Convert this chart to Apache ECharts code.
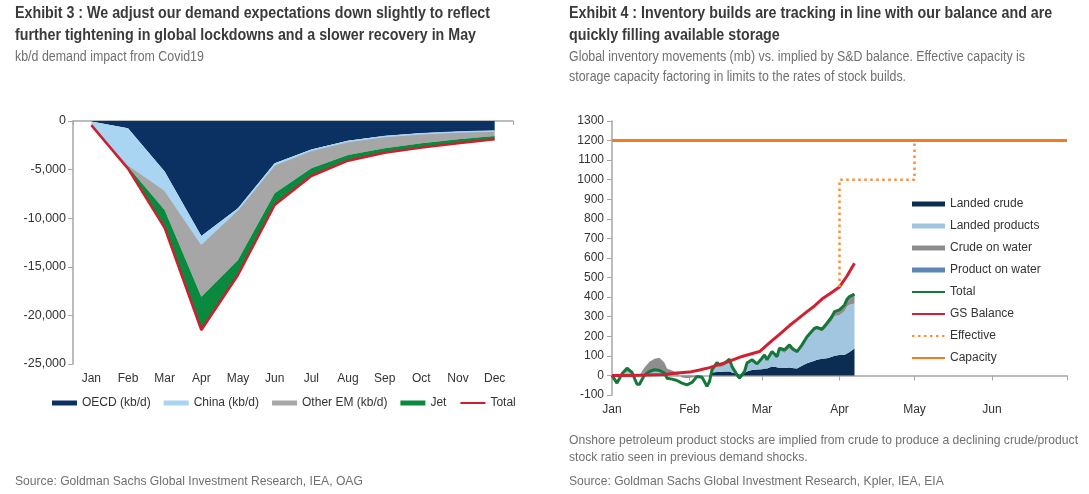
<!DOCTYPE html>
<html><head><meta charset="utf-8">
<script src="https://cdn.jsdelivr.net/npm/echarts@6/dist/echarts.min.js"></script>
<style>html,body{margin:0;padding:0;background:#fff}#c{width:1089px;height:494px}</style>
</head><body><div id="c"></div>
<script>
// ---------- Exhibit 3 data (kb/d) ----------
const months = ['Jan','Feb','Mar','Apr','May','Jun','Jul','Aug','Sep','Oct','Nov','Dec'];
const oecd    = [-50,-750,-5200,-11830,-8980,-4350,-2920,-2020,-1540,-1270,-1100,-1000];
const china   = [-300,-3750,-1900,-820,-120,-150,-100,-80,-60,-50,-40,-30];
const otherEM = [-50,-200,-2050,-5430,-5200,-2940,-1850,-1400,-1210,-980,-740,-510];
const jet     = [-30,-200,-1850,-3420,-1540,-1200,-790,-580,-450,-440,-420,-340];
const totalDemand = [-430,-4900,-11000,-21500,-15840,-8640,-5660,-4080,-3260,-2740,-2300,-1880];

// ---------- Exhibit 4 data (mb), x = day of year 2020 (0 = 1 Jan) ----------
const invDays = [0,2,4,6,8,10,11,13,15,17,19,21,22,24,26,28,30,32,34,36,38,39,40,42,43,45,47,48,50,51,53,54,56,58,60,61,62,64,66,67,69,71,72,74,76,78,81,82,84,86,88,89,91,93,94,95,97];
const landedCrude = [0,0,0,0,0,0,0,0,0,0,0,0,0,0,0,0,0,0,0,0,0,0,15,18,18,20,20,15,8,5,12,20,28,30,32,35,35,45,42,38,38,40,38,35,50,62,75,80,85,88,95,100,105,106,112,120,138];
const landedProducts = [0,0,3,20,8,0,0,15,25,30,25,15,0,0,0,0,0,0,0,0,0,0,1,35,23,30,50,17,0,0,6,38,47,24,51,65,40,70,44,89,76,99,87,77,96,126,156,154,139,162,184,204,203,222,240,241,230];
const crudeOnWater = [0,-5,5,10,8,-5,0,25,45,55,65,50,35,25,15,-10,-15,-10,-5,0,0,0,5,5,5,5,5,5,0,0,0,3,3,3,3,3,3,5,8,10,15,15,12,8,8,8,8,10,10,15,20,20,25,30,35,40,45];
const productOnWater = [0,0,0,0,0,0,0,0,0,0,0,0,0,0,0,0,0,0,0,0,0,0,8,8,8,8,8,8,0,0,2,2,2,2,2,2,2,2,2,2,2,2,2,2,2,2,2,2,2,2,2,2,2,2,2,2,2];
const totalStocks = [0,-39,8,37,15,-45,-45,3,20,29,25,12,-14,-19,-26,-39,-48,-36,-5,-9,-55,-31,29,66,54,63,83,45,3,-14,20,63,80,59,88,105,80,122,96,139,131,156,139,122,156,198,241,246,236,267,301,326,335,360,389,403,415];
const gsDays = [0,7,14,21,26,31,35,39,46,52,59,64,67,71,74,78,81,84,88,91,94,97];
const gsBalance = [0,0,2,5,12,17,28,40,68,97,122,178,210,255,285,326,355,390,425,452,508,573];
const effDays = [91,91,121,121,182];
const effective = [452,1000,1000,1200,1200];
const capDays = [0,182];
const capacity = [1200,1200];
const monthStarts = [0,31,60,91,121,152,182];
const invTickLabels = ['Jan','Feb','Mar','Apr','May','Jun',''];
const dayCategories = Array.from({length:183}, (_, i) => String(i));

const pairs = (xs, ys) => xs.map((x, i) => [x, ys[i]]);
const SANS = "'Liberation Sans',Arial,Helvetica,sans-serif";
const axisGray = '#a6a6a6';
const labelStyle = {color:'#333', fontFamily:SANS, fontSize:12};

const chart = echarts.init(document.getElementById('c'), null, {renderer:'canvas'});

// Arial-metric font compressed horizontally to imitate the reference's condensed face.
const mctx = document.createElement('canvas').getContext('2d');
function fitScale(t, font, targetW) { mctx.font = font; return targetW / mctx.measureText(t).width; }
const TB = 'bold 16px ' + SANS, TS = '14px ' + SANS, TN = '13px ' + SANS;
const T1 = 'Exhibit 3 : We adjust our demand expectations down slightly to reflect';
const S1 = 'Global inventory movements (mb) vs. implied by S&D balance. Effective capacity is';
const N1 = 'Onshore petroleum product stocks are implied from crude to produce a declining crude/product';
const sTitle = fitScale(T1, TB, 475), sSub = fitScale(S1, TS, 456), sNote = fitScale(N1, TN, 509);
function txt(x, y, t, font, fill, s) {
  return {type:'text', left:x, top:y, scaleX:s, scaleY:1, silent:true, style:{text:t, font:font, fill:fill}};
}
const dark = '#3a3a3a', grey = '#707070';
const noDot = {color:'rgba(0,0,0,0)', borderWidth:0};

const option = {
  backgroundColor:'#fff',
  animation:false,
  graphic: [
    txt(15, 6, T1, TB, dark, sTitle),
    txt(15, 28, 'further tightening in global lockdowns and a slower recovery in May', TB, dark, sTitle),
    txt(15, 50, 'kb/d demand impact from Covid19', TS, grey, sSub),
    txt(15, 475, 'Source: Goldman Sachs Global Investment Research, IEA, OAG', TN, grey, sNote),
    txt(569, 6, 'Exhibit 4 : Inventory builds are tracking in line with our balance and are', TB, dark, sTitle),
    txt(569, 28, 'quickly filling available storage', TB, dark, sTitle),
    txt(569, 50, S1, TS, grey, sSub),
    txt(569, 70, 'storage capacity factoring in limits to the rates of stock builds.', TS, grey, sSub),
    txt(569, 434, N1, TN, grey, sNote),
    txt(569, 451, 'stock ratio seen in previous demand shocks.', TN, grey, sNote),
    txt(569, 475, 'Source: Goldman Sachs Global Investment Research, Kpler, IEA, EIA', TN, grey, sNote)
  ],
  grid: [
    {left:73, top:121, width:440, height:243},
    {left:612, top:121, width:455, height:274}
  ],
  legend: [
    {
      left:52, top:397, padding:0, itemWidth:25, itemHeight:5, itemGap:13,
      textStyle:{color:'#333', fontFamily:SANS, fontSize:12},
      data:[
        {name:'OECD (kb/d)', icon:'rect'},
        {name:'China (kb/d)', icon:'rect'},
        {name:'Other EM (kb/d)', icon:'rect'},
        {name:'Jet', icon:'rect'},
        {name:'Total', itemStyle:noDot}
      ]
    },
    {
      orient:'vertical', left:911, top:198, padding:0, itemWidth:33, itemHeight:5, itemGap:10,
      textStyle:{color:'#333', fontFamily:SANS, fontSize:12},
      data:[
        {name:'Landed crude', icon:'rect'},
        {name:'Landed products', icon:'rect'},
        {name:'Crude on water', icon:'rect'},
        {name:'Product on water', icon:'rect'},
        {name:'Total ', itemStyle:noDot},
        {name:'GS Balance', itemStyle:noDot},
        {name:'Effective', itemStyle:noDot},
        {name:'Capacity', itemStyle:noDot}
      ]
    }
  ],
  xAxis: [
    {type:'category', gridIndex:0, data:months, position:'bottom', boundaryGap:true,
     axisLine:{show:false, onZero:false}, axisTick:{show:false},
     axisLabel:Object.assign({margin:9, interval:0}, labelStyle), splitLine:{show:false}},
    {type:'category', gridIndex:0, data:months, position:'top', boundaryGap:true,
     axisLine:{show:true, onZero:false, lineStyle:{color:axisGray, width:1.5}},
     axisTick:{show:true, inside:true, length:4, lineStyle:{color:axisGray}},
     axisLabel:{show:false}, splitLine:{show:false}},
    {type:'category', gridIndex:1, data:dayCategories, position:'bottom', boundaryGap:false,
     axisLine:{show:false, onZero:false}, axisTick:{show:false}, splitLine:{show:false},
     axisLabel:Object.assign({margin:9,
       interval:(i) => monthStarts.indexOf(i) >= 0,
       formatter:(v, i) => invTickLabels[monthStarts.indexOf(i)] || ''}, labelStyle)},
    {type:'category', gridIndex:1, data:dayCategories, position:'bottom', boundaryGap:false,
     axisLine:{show:true, onZero:true, lineStyle:{color:axisGray, width:1.5}},
     axisTick:{show:true, length:5, interval:(i) => monthStarts.indexOf(i) >= 0, lineStyle:{color:axisGray}},
     axisLabel:{show:false}, splitLine:{show:false}}
  ],
  yAxis: [
    {type:'value', gridIndex:0, min:-25000, max:0, interval:5000,
     axisLine:{show:true, lineStyle:{color:axisGray, width:1.5}},
     axisTick:{show:true, length:5, lineStyle:{color:axisGray}},
     splitLine:{show:false},
     axisLabel:Object.assign({margin:7, formatter:v => v.toLocaleString('en-US')}, labelStyle, {fontSize:12.5})},
    {type:'value', gridIndex:1, min:-100, max:1300, interval:100,
     axisLine:{show:true, lineStyle:{color:axisGray, width:1.5}},
     axisTick:{show:true, length:5, lineStyle:{color:axisGray}},
     splitLine:{show:false},
     axisLabel:Object.assign({margin:8, formatter:v => String(v)}, labelStyle)}
  ],
  series: [
    // Exhibit 3
    {name:'OECD (kb/d)', type:'line', xAxisIndex:0, yAxisIndex:0, stack:'d', data:oecd,
     symbol:'none', lineStyle:{width:0}, itemStyle:{color:'#0a3161'}, areaStyle:{color:'#0a3161', opacity:1}},
    {name:'China (kb/d)', type:'line', xAxisIndex:0, yAxisIndex:0, stack:'d', data:china,
     symbol:'none', lineStyle:{width:1.5, color:'#a9d4f2'}, itemStyle:{color:'#a9d4f2'}, areaStyle:{color:'#a9d4f2', opacity:1}},
    {name:'Other EM (kb/d)', type:'line', xAxisIndex:0, yAxisIndex:0, stack:'d', data:otherEM,
     symbol:'none', lineStyle:{width:0}, itemStyle:{color:'#a6a6a6'}, areaStyle:{color:'#a6a6a6', opacity:1}},
    {name:'Jet', type:'line', xAxisIndex:0, yAxisIndex:0, stack:'d', data:jet,
     symbol:'none', lineStyle:{width:0}, itemStyle:{color:'#0b8a3f'}, areaStyle:{color:'#0b8a3f', opacity:1}},
    {name:'Total', type:'line', xAxisIndex:0, yAxisIndex:0, data:totalDemand,
     symbol:'none', lineStyle:{width:2.5, color:'#cc1f2f'}, itemStyle:{color:'#cc1f2f'}, z:5},
    // Exhibit 4
    {name:'Landed crude', type:'line', xAxisIndex:2, yAxisIndex:1, stack:'inv', data:pairs(invDays, landedCrude),
     symbol:'none', lineStyle:{width:0}, itemStyle:{color:'#0c2d52'}, areaStyle:{color:'#0c2d52', opacity:1}},
    {name:'Landed products', type:'line', xAxisIndex:2, yAxisIndex:1, stack:'inv', data:pairs(invDays, landedProducts),
     symbol:'none', lineStyle:{width:0}, itemStyle:{color:'#a3c6e0'}, areaStyle:{color:'#a3c6e0', opacity:1}},
    {name:'Crude on water', type:'line', xAxisIndex:2, yAxisIndex:1, stack:'inv', data:pairs(invDays, crudeOnWater),
     symbol:'none', lineStyle:{width:0}, itemStyle:{color:'#8e8e8e'}, areaStyle:{color:'#8e8e8e', opacity:1}},
    {name:'Product on water', type:'line', xAxisIndex:2, yAxisIndex:1, stack:'inv', data:pairs(invDays, productOnWater),
     symbol:'none', lineStyle:{width:0}, itemStyle:{color:'#5d87b5'}, areaStyle:{color:'#5d87b5', opacity:1}},
    {name:'Total ', type:'line', xAxisIndex:2, yAxisIndex:1, data:pairs(invDays, totalStocks),
     symbol:'none', lineStyle:{width:3, color:'#14783a'}, itemStyle:{color:'#14783a'}, z:5},
    {name:'GS Balance', type:'line', xAxisIndex:2, yAxisIndex:1, data:pairs(gsDays, gsBalance),
     symbol:'none', lineStyle:{width:3, color:'#cf2132'}, itemStyle:{color:'#cf2132'}, z:6},
    {name:'Effective', type:'line', xAxisIndex:2, yAxisIndex:1, data:pairs(effDays, effective),
     symbol:'none', lineStyle:{width:2.5, type:[2.5,3.5], color:'#f5903e'}, itemStyle:{color:'#f5903e'}, z:6},
    {name:'Capacity', type:'line', xAxisIndex:2, yAxisIndex:1, data:pairs(capDays, capacity),
     symbol:'none', lineStyle:{width:3, color:'#f47c20'}, itemStyle:{color:'#f47c20'}, z:7}
  ]
};
chart.setOption(option);
</script>
</body></html>
